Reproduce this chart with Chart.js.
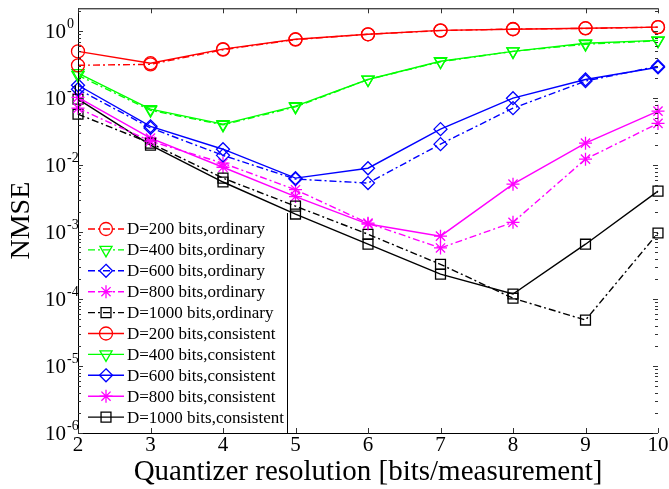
<!DOCTYPE html>
<html lang="en">
<head>
    <meta charset="UTF-8">
    <title>NMSE vs quantizer resolution</title>
    <script src="https://cdn.jsdelivr.net/npm/chart.js@4.4.0/dist/chart.umd.min.js"></script>
    <style>
        html, body { margin: 0; padding: 0; background: #fff; }
        .chart-box { width: 669px; height: 489px; position: relative; }
    </style>
</head>
<body>
    <div class="chart-box">
        <canvas id="nmseChart"></canvas>
    </div>

    <script>
        // Quantizer resolution (bits per measurement)
        const bits = [2, 3, 4, 5, 6, 7, 8, 9, 10];

        // NMSE, ordinary reconstruction
        const d200Ordinary  = [0.31, 0.32, 0.53, 0.75, 0.90, 1.02, 1.08, 1.10, 1.15];
        const d400Ordinary  = [0.22, 0.066, 0.040, 0.074, 0.19, 0.35, 0.50, 0.64, 0.72];
        const d600Ordinary  = [0.136, 0.036, 0.014, 0.0062, 0.0054, 0.0206, 0.071, 0.18, 0.30];
        const d800Ordinary  = [0.071, 0.0228, 0.0107, 0.0043, 0.00136, 0.00058, 0.0014, 0.0123, 0.042];
        const d1000Ordinary = [0.0577, 0.0213, 0.0064, 0.00244, 0.00093, 0.00033, 0.000103, 0.0000486, 0.00097];

        // NMSE, consistent reconstruction
        const d200Consistent  = [0.50, 0.333, 0.54, 0.76, 0.90, 1.03, 1.07, 1.11, 1.15];
        const d400Consistent  = [0.236, 0.0686, 0.041, 0.076, 0.19, 0.356, 0.50, 0.66, 0.73];
        const d600Consistent  = [0.156, 0.038, 0.0173, 0.0064, 0.0090, 0.0345, 0.10, 0.19, 0.29];
        const d800Consistent  = [0.103, 0.0253, 0.0093, 0.0034, 0.00132, 0.00087, 0.0052, 0.0213, 0.064];
        const d1000Consistent = [0.0966, 0.0199, 0.0056, 0.00186, 0.00066, 0.000236, 0.000119, 0.00066, 0.0041];

        const yDecades = [1e-6, 1e-5, 1e-4, 1e-3, 1e-2, 1e-1, 1];
        const yExponents = ['-6', '-5', '-4', '-3', '-2', '-1', '0'];

        const SERIF = '"Liberation Serif", "Times New Roman", serif';
        const DASH_DOT = [7, 3, 2, 3];

        function series(label, values, color, marker, dashed) {
            return {
                label: label,
                data: values.map((v, i) => ({ x: bits[i], y: v })),
                borderColor: color,
                backgroundColor: 'rgba(0,0,0,0)',
                pointBorderColor: color,
                pointBackgroundColor: 'rgba(0,0,0,0)',
                borderWidth: 1.4,
                borderDash: dashed ? DASH_DOT : [],
                pointStyle: marker.style,
                pointRadius: marker.r,
                pointRotation: marker.rot || 0,
                pointBorderWidth: 1.3,
                tension: 0,
                clip: false
            };
        }

        const CIRCLE = { style: 'circle', r: 6.5 };
        const TRI_DOWN = { style: 'triangle', r: 7, rot: 180 };
        const DIAMOND = { style: 'rectRot', r: 6.5 };
        const STAR = { style: 'star', r: 6.5 };
        const SQUARE = { style: 'rect', r: 7 };

        const datasets = [
            series('D=200 bits,ordinary', d200Ordinary, '#ff0000', CIRCLE, true),
            series('D=400 bits,ordinary', d400Ordinary, '#00ff00', TRI_DOWN, true),
            series('D=600 bits,ordinary', d600Ordinary, '#0000ff', DIAMOND, true),
            series('D=800 bits,ordinary', d800Ordinary, '#ff00ff', STAR, true),
            series('D=1000 bits,ordinary', d1000Ordinary, '#000000', SQUARE, true),
            series('D=200 bits,consistent', d200Consistent, '#ff0000', CIRCLE, false),
            series('D=400 bits,consistent', d400Consistent, '#00ff00', TRI_DOWN, false),
            series('D=600 bits,consistent', d600Consistent, '#0000ff', DIAMOND, false),
            series('D=800 bits,consistent', d800Consistent, '#ff00ff', STAR, false),
            series('D=1000 bits,consistent', d1000Consistent, '#000000', SQUARE, false)
        ];

        // small marker painter for the legend samples
        function drawMarker(ctx, style, x, y, r, rot) {
            ctx.beginPath();
            if (style === 'circle') {
                ctx.arc(x, y, r, 0, Math.PI * 2);
            } else if (style === 'triangle') {
                const s = rot ? -1 : 1;
                ctx.moveTo(x, y - s * r);
                ctx.lineTo(x + r * 0.866, y + s * r * 0.5);
                ctx.lineTo(x - r * 0.866, y + s * r * 0.5);
                ctx.closePath();
            } else if (style === 'rectRot') {
                ctx.moveTo(x, y - r); ctx.lineTo(x + r, y);
                ctx.lineTo(x, y + r); ctx.lineTo(x - r, y);
                ctx.closePath();
            } else if (style === 'rect') {
                const h = r * Math.SQRT1_2;
                ctx.rect(x - h, y - h, 2 * h, 2 * h);
            } else if (style === 'star') {
                for (let k = 0; k < 4; k++) {
                    const a = k * Math.PI / 4;
                    ctx.moveTo(x - r * Math.cos(a), y - r * Math.sin(a));
                    ctx.lineTo(x + r * Math.cos(a), y + r * Math.sin(a));
                }
            }
            ctx.stroke();
        }

        // legend box in the lower-left corner, drawn over the lines
        const legendBox = {
            id: 'legendBox',
            afterDatasetsDraw(chart) {
                const ctx = chart.ctx;
                const area = chart.chartArea;
                const x0 = area.left, x1 = 287, y0 = 213, y1 = area.bottom;
                ctx.save();
                ctx.fillStyle = '#fff';
                ctx.fillRect(x0, y0, x1 - x0, y1 - y0);
                ctx.strokeStyle = '#000';
                ctx.lineWidth = 1;
                ctx.beginPath();
                ctx.moveTo(x1 + 0.5, y0);
                ctx.lineTo(x1 + 0.5, y1);
                ctx.stroke();

                ctx.font = '17px ' + SERIF;
                ctx.textBaseline = 'middle';
                ctx.textAlign = 'left';
                datasets.forEach((ds, i) => {
                    const y = 229 + i * 20.9;
                    ctx.strokeStyle = ds.borderColor;
                    ctx.lineWidth = 1.4;
                    ctx.setLineDash(ds.borderDash);
                    ctx.beginPath();
                    ctx.moveTo(88, y);
                    ctx.lineTo(124, y);
                    ctx.stroke();
                    ctx.setLineDash([]);
                    ctx.lineWidth = 1.3;
                    drawMarker(ctx, ds.pointStyle, 106, y, ds.pointRadius, ds.pointRotation);
                    ctx.fillStyle = '#000';
                    ctx.fillText(ds.label, 127, y + 1);
                });
                ctx.restore();
            }
        };

        // axes frame, inward ticks and 10^n labels
        const frame = {
            id: 'frame',
            afterDraw(chart) {
                const ctx = chart.ctx;
                const a = chart.chartArea;
                const xs = chart.scales.x, ys = chart.scales.y;
                ctx.save();
                ctx.strokeStyle = '#000';
                ctx.lineWidth = 1;
                ctx.beginPath();
                ctx.moveTo(a.left + 0.5, a.top + 0.5);
                ctx.lineTo(a.right, a.top + 0.5);
                ctx.moveTo(a.left + 0.5, a.top);
                ctx.lineTo(a.left + 0.5, a.bottom + 0.5);
                ctx.lineTo(a.right, a.bottom + 0.5);
                ctx.stroke();

                ctx.strokeStyle = '#333';
                ctx.beginPath();
                bits.forEach(b => {
                    const px = Math.round(xs.getPixelForValue(b)) + 0.5;
                    ctx.moveTo(px, a.bottom); ctx.lineTo(px, a.bottom - 5);
                    ctx.moveTo(px, a.top); ctx.lineTo(px, a.top + 5);
                });
                yDecades.forEach(d => {
                    for (let m = 1; m <= 9; m++) {
                        const v = d * m;
                        if (v > ys.max) break;
                        const py = Math.round(ys.getPixelForValue(v)) + 0.5;
                        const len = m === 1 ? 5 : 3;
                        ctx.moveTo(a.left, py); ctx.lineTo(a.left + len, py);
                        ctx.moveTo(a.right, py); ctx.lineTo(a.right - len, py);
                    }
                });
                ctx.stroke();

                ctx.fillStyle = '#000';
                ctx.textBaseline = 'middle';
                ctx.textAlign = 'left';
                yDecades.forEach((d, i) => {
                    const py = ys.getPixelForValue(d);
                    ctx.font = '21px ' + SERIF;
                    ctx.fillText('10', 45, py + 1);
                    const w = ctx.measureText('10').width;
                    ctx.font = '14px ' + SERIF;
                    ctx.fillText(yExponents[i], 45 + w + 1, py - 7);
                });
                ctx.restore();
            }
        };

        const ctx = document.getElementById('nmseChart').getContext('2d');
        const nmseChart = new Chart(ctx, {
            type: 'line',
            data: { datasets: datasets },
            plugins: [legendBox, frame],
            options: {
                responsive: true,
                maintainAspectRatio: false,
                animation: false,
                layout: { padding: { top: 7, right: 11, left: 0, bottom: 0 } },
                scales: {
                    x: {
                        type: 'linear',
                        min: 2,
                        max: 10,
                        afterFit: s => { s.height = 56; },
                        grid: { display: false, drawTicks: false },
                        border: { display: false },
                        ticks: {
                            stepSize: 1,
                            padding: 0,
                            color: '#000',
                            font: { family: SERIF, size: 21 }
                        },
                        title: {
                            display: true,
                            text: 'Quantizer resolution [bits/measurement]',
                            color: '#000',
                            font: { family: SERIF, size: 29, lineHeight: 1.0 },
                            padding: { top: 0, bottom: 2 }
                        }
                    },
                    y: {
                        type: 'logarithmic',
                        min: 1e-6,
                        max: 2.2,
                        afterFit: s => { s.width = 78; },
                        grid: { display: false, drawTicks: false },
                        border: { display: false },
                        ticks: { display: false },
                        title: {
                            display: true,
                            text: 'NMSE',
                            color: '#000',
                            font: { family: SERIF, size: 28 },
                            padding: { top: 5, bottom: 0 }
                        }
                    }
                },
                plugins: {
                    legend: { display: false },
                    tooltip: { enabled: false }
                }
            }
        });
    </script>
</body>
</html>
